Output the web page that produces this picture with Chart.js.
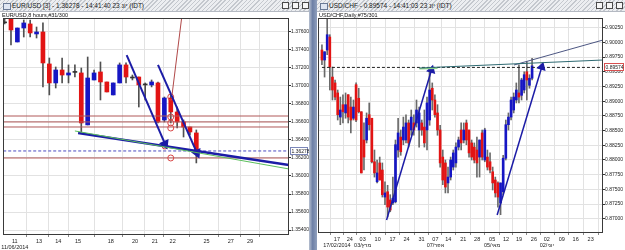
<!DOCTYPE html>
<html>
<head>
<meta charset="utf-8">
<script src="https://cdn.jsdelivr.net/npm/chart.js@4.4.1/dist/chart.umd.min.js"></script>
<style>
  body { margin:0; width:625px; height:250px; overflow:hidden; background:#fff; position:relative; font-family:"Liberation Sans", Arial, sans-serif; }
  .title { position:absolute; top:0; height:11px; background:repeating-linear-gradient(135deg,#c4c8ce 0 1px,#eceef1 1px 3px); border-bottom:1px solid #b4b9c2; font-size:6.5px; line-height:11px; color:#1a1a1a; white-space:nowrap; overflow:hidden; }
  .title .txt { position:absolute; left:12px; top:0; }
  .title .ico { position:absolute; left:3px; top:3px; width:6px; height:5px; border:1px solid #6a7a96; background:#dfe6f2; }
  .title .btn { position:absolute; top:2px; width:5px; height:5px; border:1px solid #4a4a4a; background:#f6f6f6; }
  .sub { position:absolute; top:12px; font-size:5.5px; line-height:6px; color:#111; white-space:nowrap; }
  .split { position:absolute; left:309px; top:0; width:8px; height:250px; background:linear-gradient(90deg,#b7c0d0,#6d80a6 45%,#90a0bd); }
  canvas { position:absolute; }
</style>
</head>
<body>
<div class="title" style="left:0;width:309px">
  <div class="ico"></div>
  <div class="txt">EUR/USD [3] - 1.36278 - 14:41:40 23 יונ (IDT)</div>
  <div class="btn" style="left:282px"></div><div class="btn" style="left:292px"></div><div class="btn" style="left:302px"></div>
</div>
<div class="title" style="left:317px;width:308px">
  <div class="ico"></div>
  <div class="txt">USD/CHF - 0.89574 - 14:41:03 23 יונ (IDT)</div>
  <div class="btn" style="left:279px"></div><div class="btn" style="left:289px"></div><div class="btn" style="left:299px"></div>
</div>
<div class="split"></div>
<canvas id="eur" width="309" height="238" style="left:0;top:12px"></canvas>
<canvas id="chf" width="308" height="238" style="left:317px;top:12px"></canvas>
<div class="sub" style="left:2px">EUR/USD,8 hours,#31/300</div>
<div class="sub" style="left:319px">USD/CHF,Daily,#75/301</div>

<script>
// EUR/USD 8 hours candles (index 0..30)
const eurOpen  = [1.37705,1.37754,1.37488,1.37643,1.37688,1.37577,1.37599,1.37244,1.37033,1.37177,1.37121,1.37155,1.37144,1.36567,1.37066,1.37155,1.37044,1.36900,1.37033,1.37233,1.37088,1.37099,1.37011,1.37011,1.37033,1.36622,1.36866,1.36711,1.36600,1.36544,1.36478];
const eurHigh  = [1.37754,1.37754,1.37643,1.37732,1.37732,1.37654,1.37699,1.37310,1.37210,1.37310,1.37233,1.37233,1.37199,1.37321,1.37177,1.37266,1.37044,1.37033,1.37255,1.37255,1.37121,1.37099,1.37033,1.37066,1.37044,1.36877,1.36900,1.36766,1.36622,1.36544,1.36511];
const eurLow   = [1.37688,1.37454,1.37488,1.37543,1.37543,1.37532,1.36989,1.36900,1.36977,1.37033,1.37033,1.37099,1.36489,1.36567,1.37066,1.36844,1.36933,1.36900,1.37033,1.37033,1.37066,1.36766,1.36844,1.36989,1.36589,1.36600,1.36589,1.36533,1.36433,1.36456,1.36145];
const eurClose = [1.37700,1.37621,1.37643,1.37699,1.37588,1.37599,1.37255,1.37033,1.37177,1.37121,1.37144,1.37150,1.36589,1.37088,1.37144,1.37044,1.36933,1.37033,1.37233,1.37099,1.37092,1.37011,1.37011,1.37044,1.36600,1.36866,1.36711,1.36600,1.36544,1.36489,1.36289];
const eurYTicks = [1.354,1.356,1.358,1.360,1.362,1.364,1.366,1.368,1.370,1.372,1.374,1.376];
const eurXTicks = [1.6,5.4,8.4,11.5,16.6,20.4,23.5,26.3,31.6,35.4,38.4];
const eurXLabels = ['11','13','14','15','18','20','21','22','25','27','29'];
const eurXSecond = ['11/06/2014'];
const eurLevels = [1.36666,1.36600,1.36544,1.36200];
const eurPrice = 1.36278;
const eurTrend = [[11.5,1.36478],[44.5,1.36122]];
const eurGreen = [[11.0,1.36500],[44.5,1.36078]];
const eurArrow1 = [[19.1,1.37343],[25.1,1.36356]];
const eurArrow2 = [[24.0,1.37233],[30.1,1.36256]];
const eurSteep = [[26.2,1.36900],[27.7,1.37754]];
const eurCircles = [[26,1.36877],[26,1.36655],[26,1.36589],[26,1.36533],[25.1,1.36333],[26,1.36200]];

// USD/CHF daily candles (index 0..80)
const chfOpen  = [.8987,.8970,.8987,.9009,.8941,.8931,.8914,.8873,.8894,.8880,.8911,.8890,.8871,.8928,.8905,.8882,.8834,.8834,.8877,.8871,.8797,.8763,.8795,.8783,.8737,.8746,.8732,.8727,.8729,.8817,.8839,.8834,.8834,.8863,.8851,.8863,.8863,.8851,.8863,.8856,.8851,.8868,.8922,.8902,.8880,.8851,.8805,.8795,.8761,.8771,.8788,.8795,.8822,.8851,.8834,.8863,.8851,.8829,.8822,.8817,.8805,.8846,.8800,.8805,.8797,.8780,.8766,.8761,.8727,.8746,.8803,.8860,.8873,.8885,.8902,.8914,.8910,.8919,.8950,.8927,.8939];
const chfHigh  = [.8996,.8984,.9041,.9013,.8958,.8936,.8919,.8907,.8911,.8914,.8911,.8907,.8902,.8931,.8922,.8882,.8863,.8880,.8897,.8871,.8817,.8800,.8805,.8795,.8763,.8757,.8741,.8771,.8834,.8871,.8851,.8873,.8877,.8868,.8885,.8877,.8902,.8890,.8868,.8885,.8907,.8953,.8931,.8911,.8894,.8859,.8817,.8800,.8788,.8805,.8817,.8829,.8839,.8863,.8863,.8868,.8851,.8834,.8829,.8839,.8834,.8851,.8854,.8817,.8812,.8788,.8771,.8763,.8761,.8808,.8868,.8880,.8907,.8914,.8931,.8962,.8939,.8950,.8967,.8945,.8973];
const chfLow   = [.8962,.8941,.8979,.8919,.8902,.8902,.8868,.8860,.8863,.8871,.8863,.8846,.8868,.8865,.8880,.8778,.8783,.8829,.8851,.8795,.8771,.8761,.8766,.8737,.8724,.8703,.8712,.8724,.8727,.8805,.8808,.8826,.8829,.8822,.8842,.8842,.8856,.8822,.8842,.8822,.8817,.8859,.8885,.8873,.8842,.8788,.8758,.8744,.8744,.8766,.8783,.8788,.8817,.8817,.8829,.8826,.8805,.8800,.8795,.8771,.8771,.8800,.8797,.8783,.8778,.8749,.8737,.8720,.8707,.8741,.8800,.8851,.8868,.8880,.8897,.8897,.8902,.8914,.8902,.8922,.8936];
const chfClose = [.8970,.8984,.9013,.8958,.8919,.8907,.8877,.8885,.8882,.8894,.8873,.8868,.8890,.8868,.8882,.8778,.8805,.8871,.8860,.8797,.8778,.8778,.8766,.8741,.8744,.8720,.8715,.8735,.8826,.8846,.8814,.8856,.8863,.8829,.8873,.8851,.8885,.8880,.8851,.8829,.8897,.8919,.8902,.8877,.8851,.8795,.8766,.8754,.8771,.8800,.8812,.8822,.8834,.8829,.8851,.8834,.8812,.8805,.8800,.8795,.8834,.8805,.8851,.8788,.8783,.8761,.8744,.8737,.8761,.8803,.8860,.8873,.8902,.8907,.8919,.8907,.8936,.8945,.8936,.8939,.8960];
const chfYTicks = [.8700,.8725,.8750,.8775,.8800,.8825,.8850,.8875,.8900,.8925,.8950,.8975,.9000,.9025];
const chfXTicks = [5.7,10.6,15.5,21.2,26.9,32.2,37.9,43.2,48.1,53.8,59.1,64.8,70.1,75.0,80.7,85.6,91.3,96.6,102.3];
const chfXLabels = ['17','24','03','10','17','24','31','07','14','21','28','05','12','19','26','02','09','16','23'];
const chfXSecond = ['17/02/2014','','03/מרץ','','','','','07/אפר','','','','05/מאי','','','','02/יוני'];
const chfPrice = 0.89574;
const chfTeal = [[37.1,0.89564],[107,0.89700]];
const chfGreen = [[37.1,0.89550],[44,0.89560]];
const chfUpper = [[73.1,0.89615],[107,0.90040]];
const chfArrow1 = [[24.6,0.86980],[41.7,0.89530]];
const chfArrow2 = [[66.7,0.87065],[83.7,0.89581]];

const FONT = '"Liberation Sans", Arial, sans-serif';

function candleSets(o, h, l, c, bodyW, wickColor) {
    const colors = o.map((v, i) => Math.abs(c[i] - v) < 0.00008 ? '#333333' : (c[i] > v ? '#1616c4' : '#e21414'));
    return [
        { type: 'bar', data: h.map((v, i) => ({ x: i, y: [l[i], v] })), backgroundColor: wickColor,
          barThickness: 1, grouped: false, order: 3 },
        { type: 'bar', data: o.map((v, i) => ({ x: i, y: [Math.min(v, c[i]), Math.max(v, c[i])] })), backgroundColor: colors,
          barThickness: bodyW, minBarLength: 1, grouped: false, order: 2 }
    ];
}

function seg(pts, color, width, extra) {
    return Object.assign({
        type: 'line', data: pts.map(p => ({ x: p[0], y: p[1] })), borderColor: color,
        borderWidth: width, pointRadius: 0, tension: 0, order: 0
    }, extra || {});
}

function arrowRot(ctx) {
    const d = ctx.dataset.data, xs = ctx.chart.scales.x, ys = ctx.chart.scales.y;
    const dx = xs.getPixelForValue(d[1].x) - xs.getPixelForValue(d[0].x);
    const dy = ys.getPixelForValue(d[1].y) - ys.getPixelForValue(d[0].y);
    return Math.atan2(dx, -dy) * 180 / Math.PI;
}

function arrow(pts, color, width) {
    return seg(pts, color, width, {
        pointRadius: [0, 4], pointStyle: 'triangle', pointBackgroundColor: color,
        pointBorderColor: color, pointRotation: arrowRot
    });
}

function level(y, x0, x1, color, dash) {
    return seg([[x0, y], [x1, y]], color, 1, { borderDash: dash || [], order: 1 });
}

// frame around the plot
const framePlugin = {
    id: 'frame',
    afterDatasetsDraw(chart) {
        const a = chart.chartArea, g = chart.ctx;
        g.save();
        g.strokeStyle = '#3a3a3a';
        g.lineWidth = 1;
        g.strokeRect(Math.round(a.left) + 0.5, Math.round(a.top) + 0.5, Math.round(a.right - a.left) - 1, Math.round(a.bottom - a.top) - 1);
        g.restore();
    }
};

// current price box on the value axis
const priceBoxPlugin = {
    id: 'priceBox',
    afterDraw(chart, args, opts) {
        if (opts.value == null) return;
        const g = chart.ctx, a = chart.chartArea;
        const y = Math.round(chart.scales.y.getPixelForValue(opts.value));
        g.save();
        g.fillStyle = '#fff';
        g.strokeStyle = opts.border;
        g.lineWidth = 1;
        g.fillRect(a.right + 1, y - 4, chart.width - a.right - 2, 8);
        g.strokeRect(a.right + 1.5, y - 3.5, chart.width - a.right - 3, 7);
        g.fillStyle = '#222';
        g.font = '5px ' + FONT;
        g.textBaseline = 'middle';
        g.fillText(opts.value.toFixed(5), a.right + 2.5, y + 0.5);
        g.restore();
    }
};

function buildChart(id, cfg) {
    return new Chart(document.getElementById(id), {
        type: 'bar',
        data: { datasets: cfg.datasets },
        options: {
            animation: false,
            responsive: false,
            events: [],
            layout: { autoPadding: false, padding: cfg.padding },
            plugins: { legend: { display: false }, tooltip: { enabled: false }, priceBox: cfg.box },
            scales: {
                x: {
                    type: 'linear', min: cfg.xMin, max: cfg.xMax, offset: false,
                    afterBuildTicks: s => { s.ticks = cfg.xTicks.map(v => ({ value: v })); },
                    afterFit: s => { s.height = cfg.xHeight; },
                    grid: { color: '#e2e2e2', tickLength: 2, tickColor: '#888' },
                    border: { display: false },
                    ticks: {
                        autoSkip: false, maxRotation: 0, padding: 1, color: '#222',
                        font: { size: 5.5, family: FONT, lineHeight: 1.15 },
                        callback: (v, i) => cfg.xSecond[i] ? [cfg.xLabels[i], cfg.xSecond[i]] : cfg.xLabels[i]
                    }
                },
                y: {
                    type: 'linear', position: 'right', min: cfg.yMin, max: cfg.yMax,
                    afterBuildTicks: s => { s.ticks = cfg.yTicks.map(v => ({ value: v })); },
                    afterFit: s => { s.width = cfg.yWidth; },
                    grid: { color: '#e2e2e2', tickLength: 2, tickColor: '#333' },
                    border: { display: false },
                    ticks: { padding: 0, color: '#222', font: { size: 5, family: FONT }, callback: v => v.toFixed(5) }
                }
            }
        },
        plugins: [framePlugin, priceBoxPlugin]
    });
}

// EUR/USD chart
const eurMax = 44.5;
buildChart('eur', {
    padding: { left: 3, top: 6, right: 0, bottom: 0 },
    xMin: -0.25, xMax: eurMax, xHeight: 15, yWidth: 20,
    yMin: 1.35345, yMax: 1.37754,
    xTicks: eurXTicks, xLabels: eurXLabels, xSecond: eurXSecond, yTicks: eurYTicks,
    box: { value: eurPrice, border: '#7a86b8' },
    datasets: [
        ...eurLevels.map(v => level(v, -1, eurMax + 1, '#b05858')),
        level(eurPrice, -1, eurMax + 1, '#4a4ac0', [3, 2]),
        seg(eurGreen, '#5cbf5c', 1),
        seg(eurTrend, '#1c1ca6', 2.5),
        seg(eurSteep, '#b04848', 1),
        arrow(eurArrow1, '#1c1ca6', 2),
        arrow(eurArrow2, '#1c1ca6', 2),
        seg(eurCircles, 'rgba(0,0,0,0)', 0, {
            showLine: false, pointRadius: 3, pointStyle: 'circle', pointBorderColor: '#d84848',
            pointBackgroundColor: 'rgba(255,255,255,0)', pointBorderWidth: 1
        }),
        ...candleSets(eurOpen, eurHigh, eurLow, eurClose, 4, '#505050')
    ]
});

// USD/CHF chart
const chfMax = 107;
buildChart('chf', {
    padding: { left: 1, top: 6, right: 0, bottom: 0 },
    xMin: -1.5, xMax: chfMax, xHeight: 17, yWidth: 22,
    yMin: 0.86759, yMax: 0.90414,
    xTicks: chfXTicks, xLabels: chfXLabels, xSecond: chfXSecond, yTicks: chfYTicks,
    box: { value: chfPrice, border: '#d85050' },
    datasets: [
        level(chfPrice, 0, chfMax + 1, '#222', [3, 2]),
        seg(chfTeal, '#2e6a72', 1),
        seg(chfGreen, '#8cd08c', 1.5),
        seg(chfUpper, '#4c5682', 1),
        arrow(chfArrow1, '#1c1ca6', 1.5),
        arrow(chfArrow2, '#1c1ca6', 1.5),
        ...candleSets(chfOpen, chfHigh, chfLow, chfClose, 2, '#6a6a6a')
    ]
});
</script>
</body>
</html>
